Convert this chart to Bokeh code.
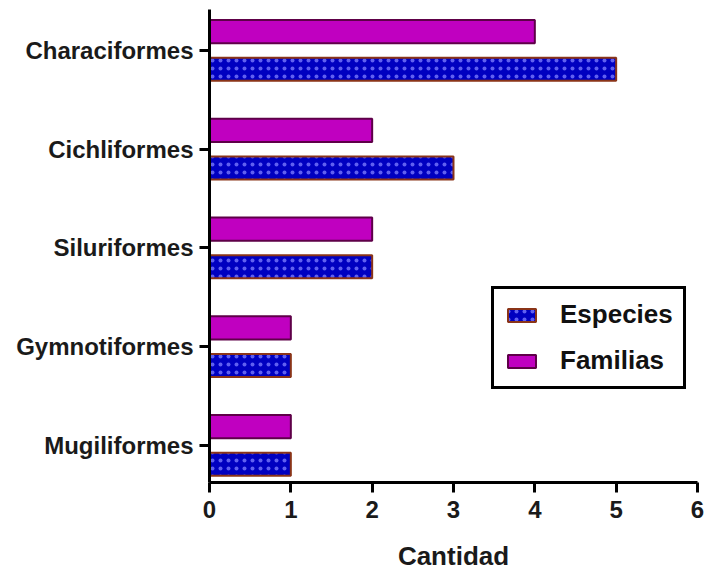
from bokeh.plotting import figure
from bokeh.models import Range1d, FixedTicker, ColumnDataSource, Legend, LegendItem
from bokeh.embed import file_html
from bokeh.resources import INLINE

# Data (bottom to top)
ordenes = ["Mugiliformes", "Gymnotiformes", "Siluriformes", "Cichliformes", "Characiformes"]
especies = [1, 1, 2, 3, 5]
familias = [1, 1, 2, 2, 4]
x_ticks = [0, 1, 2, 3, 4, 5, 6]

pos = list(range(len(ordenes)))
src = ColumnDataSource(dict(
    y_fam=[p + 0.19 for p in pos],
    y_esp=[p - 0.19 for p in pos],
    especies=especies,
    familias=familias,
))

FONT = "Liberation Sans"

p = figure(width=704, height=573, output_backend="svg", toolbar_location=None,
           x_range=Range1d(0, 6), y_range=Range1d(-0.375, 4.415),
           min_border_left=209, min_border_right=7, min_border_top=9, min_border_bottom=91)
p.outline_line_color = None
p.xgrid.visible = False
p.ygrid.visible = False
p.background_fill_color = "white"

r_fam = p.hbar(y="y_fam", right="familias", left=0, height=0.235, source=src,
               fill_color="#C000C0", line_color="#5E0048", line_width=2)
r_esp = p.hbar(y="y_esp", right="especies", left=0, height=0.235, source=src,
               fill_color="#0000C0", line_color="#8A3418", line_width=2,
               hatch_pattern=".", hatch_color="#6a6af5", hatch_scale=8,
               hatch_weight=0.6, hatch_alpha=0.9)

# X axis
xa = p.xaxis[0]
xa.ticker = FixedTicker(ticks=x_ticks)
xa.axis_line_width = 3
xa.major_tick_line_width = 3
xa.major_tick_out = 10
xa.major_tick_in = 0
xa.minor_tick_line_color = None
xa.major_label_text_font = FONT
xa.major_label_text_font_style = "bold"
xa.major_label_text_font_size = "24px"
xa.major_label_text_color = "#1a1a1a"
xa.major_label_standoff = 8
xa.axis_label = "Cantidad"
xa.axis_label_text_font = FONT
xa.axis_label_text_font_style = "bold"
xa.axis_label_text_font_size = "26px"
xa.axis_label_text_color = "#1a1a1a"
xa.axis_label_standoff = 20

# Y axis
ya = p.yaxis[0]
ya.ticker = FixedTicker(ticks=pos)
ya.major_label_overrides = {i: o for i, o in zip(pos, ordenes)}
ya.axis_line_width = 3
ya.major_tick_line_width = 3
ya.major_tick_out = 10
ya.major_tick_in = 0
ya.minor_tick_line_color = None
ya.major_label_text_font = FONT
ya.major_label_text_font_style = "bold"
ya.major_label_text_font_size = "24px"
ya.major_label_text_color = "#1a1a1a"
ya.major_label_standoff = 6

legend = Legend(items=[LegendItem(label="Especies", renderers=[r_esp]),
                       LegendItem(label="Familias", renderers=[r_fam])],
                location=(282, 93))
legend.border_line_color = "black"
legend.border_line_alpha = 1
legend.border_line_width = 3
legend.background_fill_color = "white"
legend.background_fill_alpha = 1
legend.label_text_font = FONT
legend.label_text_font_style = "bold"
legend.label_text_font_size = "26px"
legend.label_text_color = "#111111"
legend.glyph_width = 35
legend.glyph_height = 16
legend.label_height = 30
legend.label_standoff = 21
legend.spacing = 15
legend.padding = 10
legend.margin = 0
p.add_layout(legend, "center")

open("out.html", "w").write(file_html(p, INLINE))
